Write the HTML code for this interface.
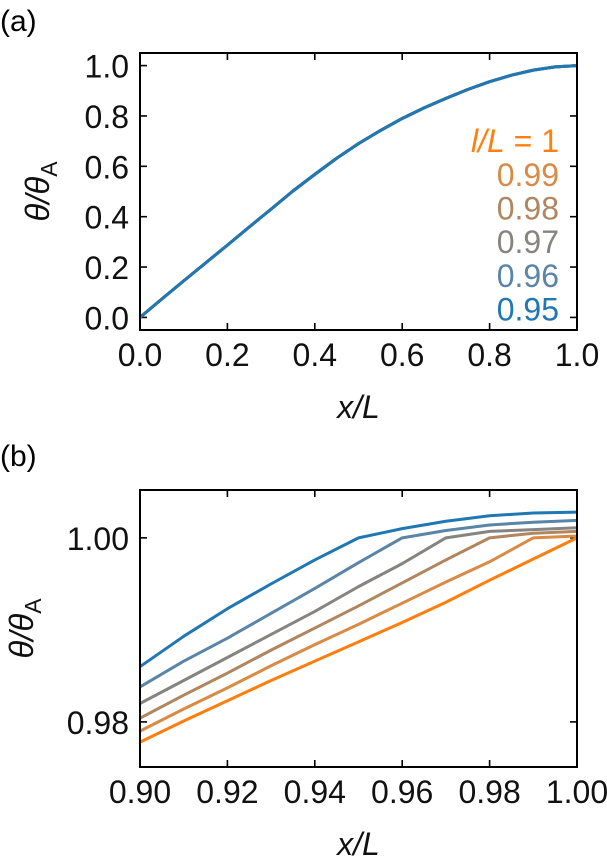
<!DOCTYPE html>
<html><head><meta charset="utf-8"><style>
html,body{margin:0;padding:0;background:#fff;}
svg{display:block;font-family:"Liberation Sans","DejaVu Sans",sans-serif;}
</style></head><body>
<svg id="fig" width="607" height="860" viewBox="0 0 607 860">
<text x="0" y="31" font-size="30">(a)</text>
<text x="0" y="466" font-size="30">(b)</text>
</svg>
<script>
// Panel (a) data
const xA = [0,0.05,0.1,0.15,0.2,0.25,0.3,0.35,0.4,0.45,0.5,0.55,0.6,0.65,0.7,0.75,0.8,0.85,0.9,0.95,1.0];
const yA = [0,0.073,0.145,0.216,0.287,0.359,0.43,0.502,0.568,0.632,0.69,0.742,0.79,0.832,0.87,0.905,0.936,0.962,0.982,0.995,1.0];
const aXTicks = [0,0.2,0.4,0.6,0.8,1.0];
const aXTickLabels = ["0.0","0.2","0.4","0.6","0.8","1.0"];
const aYTicks = [0,0.2,0.4,0.6,0.8,1.0];
const aYTickLabels = ["0.0","0.2","0.4","0.6","0.8","1.0"];
const legendLabels = ["0.99","0.98","0.97","0.96","0.95"];
// Panel (b) data
const xB = [0.90,0.91,0.92,0.93,0.94,0.95,0.96,0.97,0.98,0.99,1.00];
const seriesNames = ["1","0.99","0.98","0.97","0.96","0.95"];
const s100 = [0.9778,0.9801,0.9823,0.9845,0.9866,0.9887,0.9908,0.9930,0.9954,0.9977,1.0000];
const s099 = [0.9790,0.9814,0.9837,0.9861,0.9884,0.9906,0.9929,0.9952,0.9974,1.0000,1.0002];
const s098 = [0.9804,0.9829,0.9853,0.9878,0.9902,0.9926,0.9951,0.9976,1.0000,1.0005,1.0007];
const s097 = [0.9820,0.9845,0.9870,0.9895,0.9920,0.9947,0.9972,1.0000,1.0007,1.0009,1.0011];
const s096 = [0.9838,0.9866,0.9891,0.9918,0.9945,0.9973,1.0000,1.0008,1.0014,1.0017,1.0019];
const s095 = [0.9860,0.9893,0.9923,0.9950,0.9976,1.0000,1.0010,1.0018,1.0024,1.0027,1.0028];
const bXTicks = [0.90,0.92,0.94,0.96,0.98,1.00];
const bXTickLabels = ["0.90","0.92","0.94","0.96","0.98","1.00"];
const bYTicks = [0.98,1.00];
const bYTickLabels = ["0.98","1.00"];

const colors = ["#ff7f0e","#d98a45","#b08660","#868480","#5a85a8","#1f77b4"];
const NS = "http://www.w3.org/2000/svg";
const svg = document.getElementById('fig');
function mk(tag, attrs, parent){
  const e = document.createElementNS(NS, tag);
  for (const k in attrs) e.setAttribute(k, attrs[k]);
  (parent||svg).appendChild(e);
  return e;
}
function panel(name, L, R, T, B, xmin, xmax, ymin, ymax, xt, xtl, yt, ytl, ylabCx){
  const sx = v => L + (v - xmin) / (xmax - xmin) * (R - L);
  const sy = v => B - (v - ymin) / (ymax - ymin) * (B - T);
  const g = mk('g', {});
  
  
  xt.forEach((v, i) => {
    const t1 = mk('line', {x1:sx(v), x2:sx(v), y1:B, y2:B-7, stroke:'#000','stroke-width':1.6}, g);
    
    
    const t2 = mk('line', {x1:sx(v), x2:sx(v), y1:T, y2:T+7, stroke:'#000','stroke-width':1.6}, g);
    
    
    const tx = mk('text', {x:sx(v), y:B+36, 'font-size':32, 'text-anchor':'middle', fill:'#111'}, g);
    tx.textContent = xtl[i];
    
    
  });
  yt.forEach((v, i) => {
    const t1 = mk('line', {x1:L, x2:L+7, y1:sy(v), y2:sy(v), stroke:'#000','stroke-width':1.6}, g);
    
    
    const t2 = mk('line', {x1:R, x2:R-7, y1:sy(v), y2:sy(v), stroke:'#000','stroke-width':1.6}, g);
    
    
    const ty = mk('text', {x:L-11, y:sy(v)+12, 'font-size':32, 'text-anchor':'end', fill:'#111'}, g);
    ty.textContent = ytl[i];
    
    
  });
  const xl = mk('text', {x:(L+R)/2, y:B+88, 'font-size':32, 'text-anchor':'middle', 'font-style':'italic', fill:'#111'}, g);
  xl.textContent = 'x/L';
  
  
  const cy = (T+B)/2;
  const yl = mk('text', {x:0, y:0, 'font-size':33, 'text-anchor':'middle', fill:'#111', transform:`translate(${ylabCx+11},${cy}) rotate(-90)`}, g);
  yl.innerHTML = '<tspan font-style="italic">θ/θ</tspan><tspan font-size="23" dy="8">A</tspan>';
  
  
  return {g, sx, sy};
}
function drawLine(p, xs, ys, color, name, w){
  const d = xs.map((x, i) => (i ? 'L' : 'M') + p.sx(x).toFixed(2) + ',' + p.sy(ys[i]).toFixed(2)).join(' ');
  const path = mk('path', {d, fill:'none', stroke:color, 'stroke-width':w, 'stroke-linejoin':'round'}, p.g);
  
  
}
function frame(p, L, R, T, B, name){
  const r = mk('rect', {x:L, y:T, width:R-L, height:B-T, fill:'none', stroke:'#000', 'stroke-width':2}, p.g);
  
  
}

// Panel a
const pa = panel('panel-a', 140, 577, 53, 330, 0, 1, -0.05, 1.05, aXTicks, aXTickLabels, aYTicks, aYTickLabels, 38);
for (let k = 0; k < 6; k++) drawLine(pa, xA, yA, colors[k], 'curve-a-' + seriesNames[k], 3);
frame(pa, 140, 577, 53, 330, 'plot-frame-a');
const lg0 = mk('text', {x:559, y:152, 'font-size':32, 'text-anchor':'end', fill:colors[0]}, pa.g);
lg0.innerHTML = '<tspan font-style="italic">l</tspan><tspan font-style="italic">/L</tspan> = 1';


legendLabels.forEach((t, i) => {
  const e = mk('text', {x:559, y:186 + i*33.6, 'font-size':32, 'text-anchor':'end', fill:colors[i+1]}, pa.g);
  e.textContent = t;
  
  
});

// Panel b
const pb = panel('panel-b', 140, 577, 490, 767, 0.90, 1.00, 0.9751, 1.0052, bXTicks, bXTickLabels, bYTicks, bYTickLabels, 22);
const bSeries = [s100, s099, s098, s097, s096, s095];
bSeries.forEach((s, k) => drawLine(pb, xB, s, colors[k], 'curve-b-' + seriesNames[k], 3));
frame(pb, 140, 577, 490, 767, 'plot-frame-b');
</script>
</body></html>
